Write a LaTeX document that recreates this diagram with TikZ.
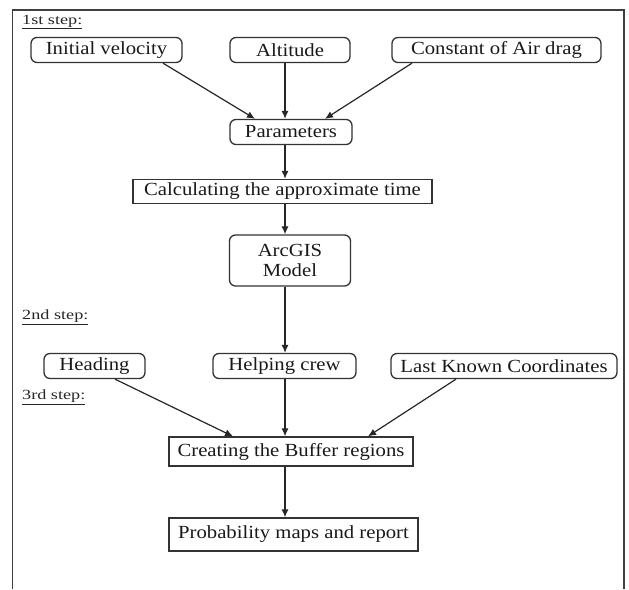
\documentclass[tikz,border=0pt]{standalone}
\usepackage{fontspec}
\setmainfont{Liberation Serif}[FakeStretch=1.12]
\newfontfamily\stepfont{Liberation Serif}[FakeStretch=1.3]
\usetikzlibrary{arrows.meta}
\begin{document}
\begin{tikzpicture}[x=1pt,y=-1pt,
  box/.style={draw=black!80, line width=1.3pt, inner sep=0pt, text=black!90,
    font=\fontsize{18.5}{20}\selectfont},
  rbox/.style={box, rounded corners=6pt},
  sbox/.style={box},
  arr/.style={-{Latex[length=8pt,width=7pt]}, line width=1.2pt, draw=black!85},
  steplbl/.style={font=\stepfont\fontsize{14}{16}\selectfont, anchor=west, inner sep=0pt, text=black!85}]
\useasboundingbox (0,0) rectangle (629,589);
\draw[line width=1.5pt, draw=black!75] (12.5,589) -- (12.5,10) -- (624,10) -- (624,589);

\node[steplbl] (s1) at (22,22) {\underline{1st step:}};
\node[steplbl] (s2) at (22,317) {\underline{2nd step:}};
\node[steplbl] (s3) at (22,397) {\underline{3rd step:}};

\node[rbox, minimum width=151pt, minimum height=25pt] (iv) at (106.5,50) {Initial velocity};
\node[rbox, minimum width=120pt, minimum height=25pt] (alt) at (290,50) {Altitude};
\node[rbox, minimum width=209pt, minimum height=25pt] (cad) at (496.5,50) {Constant of Air drag};
\node[rbox, minimum width=122pt, minimum height=25pt] (par) at (291,132) {Parameters};
\node[sbox, minimum width=299pt, minimum height=24pt] (calc) at (282.5,191.5) {Calculating the approximate time};
\node[rbox, minimum width=121pt, minimum height=51pt, align=center] (arc) at (290,260.5) {ArcGIS\\Model};
\node[rbox, minimum width=101pt, minimum height=25pt] (head) at (94.5,366) {Heading};
\node[rbox, minimum width=143pt, minimum height=25pt] (crew) at (284.5,366) {Helping crew};
\node[rbox, minimum width=226pt, minimum height=25pt] (lkc) at (504,366) {Last Known Coordinates};
\node[sbox, minimum width=244pt, minimum height=29pt] (buf) at (291,451.5) {Creating the Buffer regions};
\node[sbox, minimum width=249pt, minimum height=33pt] (prob) at (293.5,534.5) {Probability maps and report};

\coordinate (ax) at (285,0);
\draw[arr] (iv.south -| 163,0) -- (par.north -| 255,0);
\draw[arr] (alt.south -| ax) -- (par.north -| ax);
\draw[arr] (cad.south -| 412,0) -- (par.north -| 325,0);
\draw[arr] (par.south -| ax) -- (calc.north -| ax);
\draw[arr] (calc.south -| ax) -- (arc.north -| ax);
\draw[arr] (arc.south -| ax) -- (crew.north -| ax);
\draw[arr] (head.south -| 115,0) -- (buf.north -| 233,0);
\draw[arr] (crew.south -| ax) -- (buf.north -| ax);
\draw[arr] (lkc.south -| 456,0) -- (buf.north -| 368,0);
\draw[arr] (buf.south -| ax) -- (prob.north -| ax);
\end{tikzpicture}
\end{document}
